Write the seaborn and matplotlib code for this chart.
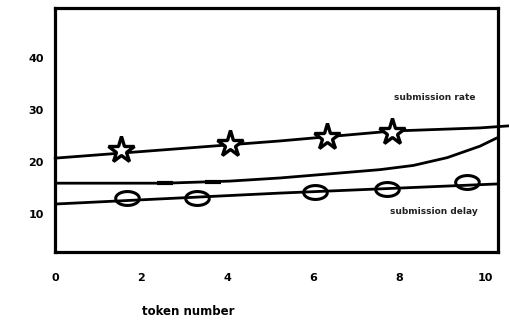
import numpy as np
import pandas as pd
import matplotlib
matplotlib.use("Agg")
import matplotlib.pyplot as plt
import seaborn as sns

# ---- data ----
rate_x = [0.0, 5.23, 7.84, 9.88, 10.56]
rate_y = [20.8, 24.1, 26.0, 26.6, 27.0]
mid_x = [0.0, 2.56, 4.07, 5.23, 6.40, 7.56, 8.33, 9.12, 9.88, 10.28]
mid_y = [16.0, 16.0, 16.4, 17.0, 17.8, 18.6, 19.4, 20.9, 23.1, 24.7]
delay_x = [0.0, 5.23, 10.28]
delay_y = [12.0, 14.1, 15.85]
star_x = [1.53, 4.07, 6.33, 7.84]
star_y = [22.4, 23.5, 24.9, 25.8]
circ_x = [1.67, 3.30, 6.05, 7.72, 9.58]
circ_y = [13.2, 13.2, 14.3, 14.9, 16.2]
dash_x = [2.56, 3.67]
dash_y = [16.0, 16.2]
xticks = [0, 2, 4, 6, 8, 10]
yticks = [10, 20, 30, 40]

sns.set_theme(style="white")
plt.rcParams['font.family'] = ['DejaVu Sans']
for k in ['text.color', 'xtick.color', 'ytick.color', 'axes.labelcolor']:
    plt.rcParams[k] = 'black'

fig = plt.figure(figsize=(5.09, 3.23), dpi=100)
ax = fig.add_axes([55/509, 1-252/323, 443/509, 244/323])

lw = 2.0
sns.lineplot(x=rate_x, y=rate_y, ax=ax, color='black', lw=lw, clip_on=False)
sns.lineplot(x=mid_x, y=mid_y, ax=ax, color='black', lw=lw)
sns.lineplot(x=delay_x, y=delay_y, ax=ax, color='black', lw=lw)

ax.plot(star_x, star_y, ls='none', marker='*', ms=20, mfc='white',
        mec='black', mew=2.4)
t = np.linspace(0, 2*np.pi, 60)
ell = np.column_stack([1.7*np.cos(t), np.sin(t)])
ax.plot(circ_x, circ_y, ls='none', marker=ell, ms=17, mfc='none',
        mec='black', mew=2.2)
ax.plot(dash_x, dash_y, ls='none', marker='_', ms=11, mec='black', mew=3)

ax.set_xlim(0, 10.3)
ax.set_ylim(2.8, 49.6)
ax.set_xticks(xticks)
ax.set_yticks(yticks)
ax.set_xticklabels([str(v) for v in xticks], fontsize=8, fontweight='bold')
ax.set_yticklabels([str(v) for v in yticks], fontsize=8, fontweight='bold')
ax.tick_params(axis='x', length=0, pad=15)
ax.tick_params(axis='y', length=0, pad=8)
for s in ax.spines.values():
    s.set_visible(True)
    s.set_color('black')
    s.set_linewidth(2.3)

ax.set_xlabel('token number', fontsize=8.5, fontweight='bold')
ax.xaxis.set_label_coords((188-55)/443, (252-305)/244)
ax.set_ylabel('')

ax.text(8.84, 32.4, 'submission rate', fontsize=6.5, fontweight='bold',
        ha='center', va='center', color='#222222')
ax.text(8.81, 10.5, 'submission delay', fontsize=6.5, fontweight='bold',
        ha='center', va='center', color='#222222')

fig.savefig('out.png', dpi=100)
